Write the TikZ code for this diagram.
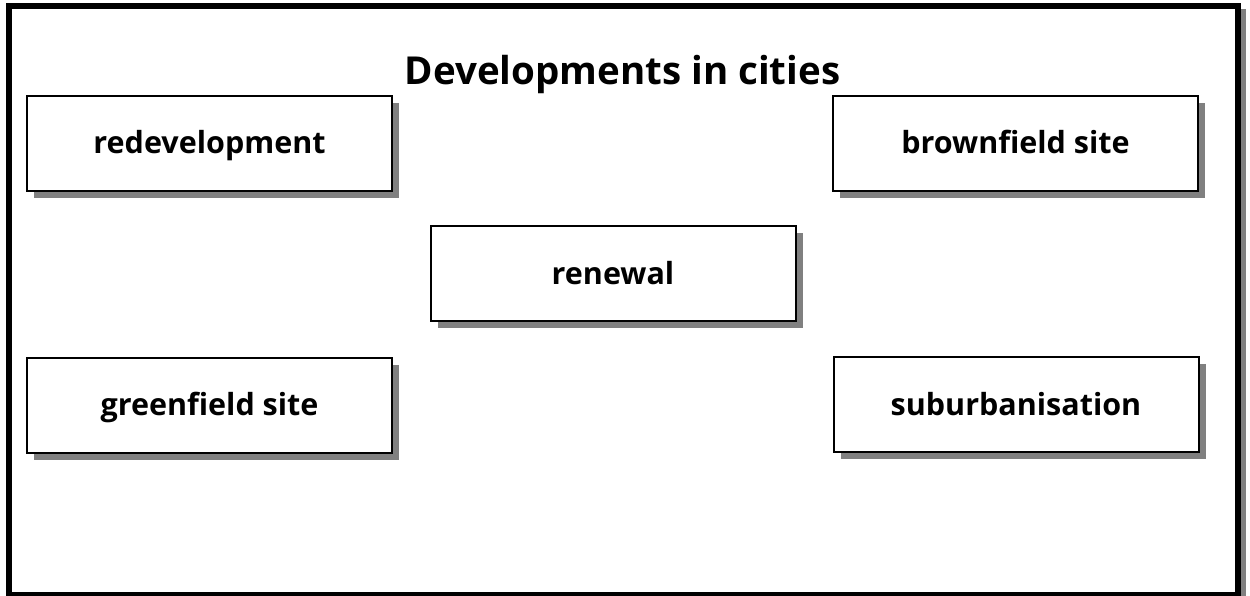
\documentclass[tikz,border=0pt]{standalone}
\usepackage{fontspec}
\setmainfont{Open Sans}
\usetikzlibrary{shadows}

\begin{document}
\begin{tikzpicture}[x=1pt, y=-1pt]
\tikzstyle{topic} = [draw, line width=2pt, fill=white, minimum width=365pt, minimum height=95pt,
  inner sep=0pt, text height=21pt, text depth=0pt, font=\fontsize{30.5}{36}\selectfont\bfseries,
  drop shadow={shadow xshift=7pt, shadow yshift=-7pt, fill=gray, opacity=1}]
\useasboundingbox (0,0) rectangle (1250,595);
% outer frame with its shadow
\fill[gray] (14,9) rectangle (1246,600);
\draw[line width=6pt, fill=white] (8.5,6) rectangle (1237.5,594.5);
% heading
\node (heading) [anchor=base, font=\fontsize{38.5}{44}\selectfont\bfseries] at (622.5,84) {Developments in cities};
% the five terms
\node (redev) [topic] at (209.5,143) {redevelopment};
\node (brown) [topic] at (1015.5,143) {brownfield site};
\node (renew) [topic] at (613,273.5) {renewal};
\node (green) [topic] at (209.5,405) {greenfield site};
\node (suburb) [topic] at (1016,404.5) {suburbanisation};
\end{tikzpicture}
\end{document}
